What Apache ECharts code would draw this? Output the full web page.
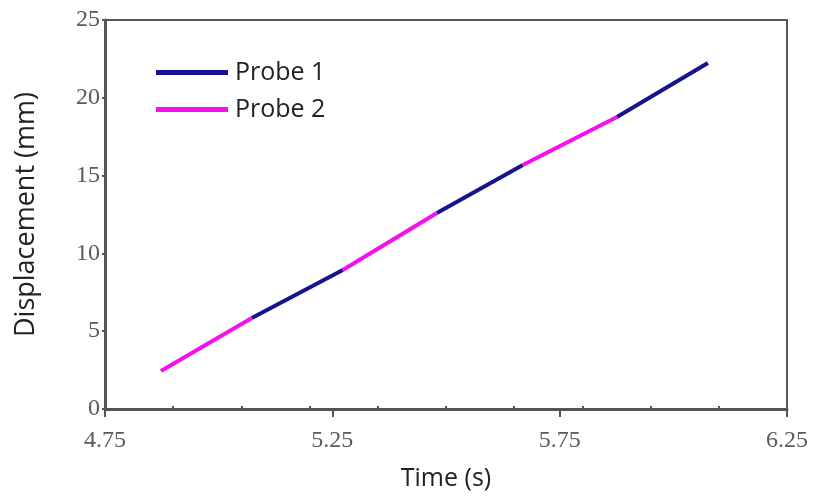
<!DOCTYPE html>
<html>
<head>
<meta charset="utf-8">
<script src="https://cdn.jsdelivr.net/npm/echarts@6/dist/echarts.min.js"></script>
<style>
  html, body { margin: 0; padding: 0; background: #fff; }
  #chart { width: 816px; height: 497px; }
</style>
</head>
<body>
<div id="chart"></div>
<script>
// segment end points along the line
var timePts = [4.873, 5.073, 5.273, 5.480, 5.669, 5.876, 6.076];
var dispPts = [2.44, 5.85, 8.93, 12.60, 15.68, 18.77, 22.24];
// which probe draws each segment (1 or 2)
var segProbe = [2, 1, 2, 1, 2, 1];
var xTicks = [4.75, 5.25, 5.75, 6.25];
var yTicks = [0, 5, 10, 15, 20, 25];

function probeData(p) {
    var out = [];
    for (var i = 0; i < segProbe.length; i++) {
        if (segProbe[i] != p) continue;
        if (out.length) out.push([null, null]);
        out.push([timePts[i], dispPts[i]]);
        out.push([timePts[i + 1], dispPts[i + 1]]);
    }
    return out;
}

var axisCol = '#555';
var labelFont = { fontFamily: 'Liberation Serif', fontSize: 24, color: '#5a5a5a' };
var titleFont = 'Open Sans';

var myChart = echarts.init(document.getElementById('chart'));
myChart.setOption({
    animation: false,
    backgroundColor: '#fff',
    grid: { left: 105, right: 29, top: 20, bottom: 88, show: true, borderColor: axisCol, borderWidth: 2 },
    legend: {
        orient: 'vertical', left: 151, top: 55, itemGap: 12,
        itemWidth: 72, itemHeight: 5, icon: 'rect',
        textStyle: { fontFamily: titleFont, fontSize: 25, color: '#222', padding: [0, 0, 0, 2] },
        data: ['Probe 1', 'Probe 2']
    },
    xAxis: [{
        type: 'value', min: xTicks[0], max: xTicks[xTicks.length - 1], interval: 0.5,
        name: 'Time (s)', nameLocation: 'middle', nameGap: 57,
        nameTextStyle: { fontFamily: titleFont, fontSize: 25, color: '#222' },
        axisLine: { lineStyle: { color: axisCol, width: 3 } },
        axisTick: { length: 8, lineStyle: { color: axisCol, width: 2 } },
        axisLabel: Object.assign({ margin: 20, formatter: function (v) { return v.toFixed(2); } }, labelFont),
        splitLine: { show: false }
    }, {
        type: 'value', position: 'bottom', min: xTicks[0], max: xTicks[xTicks.length - 1], interval: 0.15,
        axisLine: { show: false },
        axisTick: { length: 3, inside: true, lineStyle: { color: axisCol, width: 2 } },
        axisLabel: { show: false },
        splitLine: { show: false }
    }],
    yAxis: {
        type: 'value', min: yTicks[0], max: yTicks[yTicks.length - 1], interval: 5,
        name: 'Displacement (mm)', nameLocation: 'middle', nameGap: 65,
        nameTextStyle: { fontFamily: titleFont, fontSize: 27, color: '#222' },
        axisLine: { lineStyle: { color: axisCol, width: 3 } },
        axisTick: { length: 3, lineStyle: { color: axisCol, width: 2 } },
        axisLabel: Object.assign({ margin: 5 }, labelFont),
        splitLine: { show: false }
    },
    series: [{
        name: 'Probe 1', type: 'line', data: probeData(1), connectNulls: false,
        showSymbol: false, color: '#15148c', lineStyle: { width: 4, color: '#15148c' }
    }, {
        name: 'Probe 2', type: 'line', data: probeData(2), connectNulls: false,
        showSymbol: false, color: '#f510f0', lineStyle: { width: 4, color: '#f510f0' }
    }]
});
</script>
</body>
</html>
